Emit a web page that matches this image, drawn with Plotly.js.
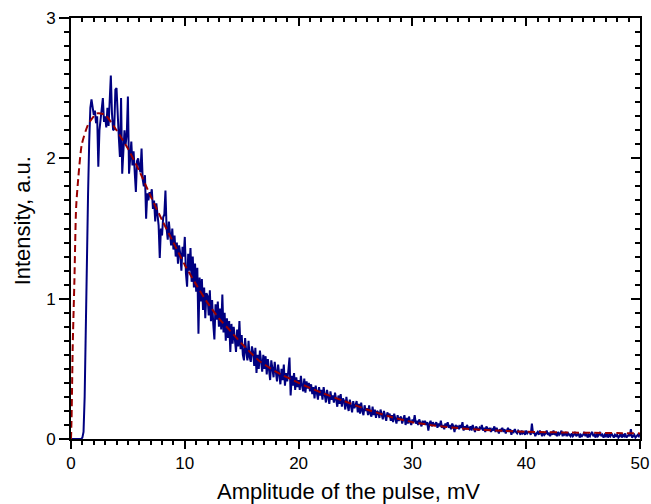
<!DOCTYPE html>
<html>
<head>
<meta charset="utf-8">
<script src="https://cdn.plot.ly/plotly-3.0.1.min.js"></script>
<style>html,body{margin:0;padding:0;background:#fff;}#chart{width:651px;height:504px;}</style>
</head>
<body>
<div id="chart"></div>
<script>
// Measured spectrum: amplitude step 0.1 mV from 0 to 50 mV
var xStart = 0, xStep = 0.1;
var measured = [
0,0,0,0,0,0,0,0,0,0,
0.01,0.05,0.3,0.9,1.4,1.75,2.12,2.36,2.42,2.37,
2.31,2.34,2.25,2.3,1.94,2.2,2.28,2.35,2.43,2.26,
2.3,2.22,2.36,2.23,2.4,2.59,2.32,2.2,2.21,2.49,
2.5,2.28,2.15,2.01,2.43,1.89,2.05,2.2,2.1,2.17,
2.44,1.89,2.0,2.12,1.95,2.05,1.9,1.76,1.98,2.0,
1.94,1.9,2.07,1.85,1.8,1.88,1.57,1.75,1.7,1.76,
1.73,1.78,1.64,1.7,1.55,1.68,1.6,1.52,1.29,1.5,
1.45,1.58,1.6,1.77,1.5,1.42,1.55,1.48,1.38,1.5,
1.35,1.45,1.3,1.4,1.25,1.38,1.32,1.2,1.37,1.3,
1.44,1.18,1.085,1.32,1.2,1.36,1.12,1.3,1.08,1.25,
1.05,1.22,0.75,1.15,0.98,1.14,0.92,1.08,0.86,1.04,
1.02,0.88,1.06,0.84,0.99,0.82,0.71,0.96,0.85,0.98,
0.8,0.93,0.78,1.03,0.76,0.9,0.7,0.86,0.72,0.84,
0.62,0.82,0.68,0.8,0.7,0.62,0.78,0.66,0.84,0.64,
0.74,0.6,0.56,0.72,0.62,0.56,0.7,0.58,0.55,0.66,
0.62,0.52,0.65,0.47,0.6,0.5,0.63,0.52,0.48,0.6,
0.5,0.59,0.46,0.57,0.48,0.42,0.56,0.47,0.44,0.55,
0.46,0.41,0.53,0.44,0.39,0.5,0.42,0.53,0.38,0.47,
0.41,0.49,0.58,0.31,0.45,0.38,0.47,0.35,0.44,0.37,
0.42,0.35,0.45,0.38,0.34,0.43,0.33,0.41,0.36,0.4,
0.34,0.39,0.32,0.37,0.29,0.38,0.33,0.28,0.37,0.31,
0.35,0.28,0.37,0.3,0.26,0.35,0.29,0.25,0.34,0.28,
0.31,0.26,0.33,0.27,0.23,0.31,0.25,0.32,0.23,0.29,
0.27,0.21,0.3,0.24,0.2,0.28,0.23,0.19,0.27,0.22,
0.24,0.27,0.19,0.25,0.18,0.26,0.2,0.17,0.24,0.2,
0.22,0.17,0.24,0.18,0.16,0.23,0.17,0.21,0.15,0.2,
0.19,0.15,0.21,0.16,0.14,0.2,0.15,0.13,0.19,0.16,
0.18,0.13,0.17,0.12,0.18,0.14,0.11,0.17,0.13,0.15,
0.16,0.11,0.15,0.17,0.1,0.15,0.11,0.16,0.12,0.1,
0.14,0.12,0.17,0.11,0.13,0.1,0.14,0.12,0.09,0.13,
0.11,0.13,0.1,0.12,0.06,0.11,0.13,0.09,0.12,0.1,
0.1,0.12,0.08,0.11,0.09,0.13,0.08,0.1,0.07,0.11,
0.09,0.12,0.08,0.1,0.07,0.11,0.09,0.05,0.1,0.08,
0.09,0.07,0.1,0.08,0.12,0.06,0.09,0.07,0.1,0.08,
0.07,0.09,0.06,0.1,0.08,0.05,0.09,0.07,0.06,0.08,
0.07,0.1,0.06,0.08,0.05,0.09,0.07,0.06,0.08,0.05,
0.07,0.06,0.09,0.05,0.08,0.06,0.04,0.07,0.06,0.08,
0.05,0.07,0.04,0.06,0.08,0.05,0.07,0.03,0.06,0.05,
0.07,0.05,0.04,0.06,0.05,0.03,0.06,0.04,0.05,0.03,
0.06,0.04,0.05,0.05,0.03,0.11,0.04,0.05,0.02,0.04,
0.05,0.03,0.06,0.04,0.02,0.05,0.03,0.04,0.06,0.03,
0.04,0.02,0.05,0.03,0.06,0.03,0.04,0.02,0.05,0.03,
0.04,0.06,0.02,0.04,0.03,0.05,0.02,0.04,0.03,0.02,
0.04,0.02,0.03,0.05,0.02,0.03,0.04,0.01,0.03,0.02,
0.03,0.05,0.02,0.04,0.01,0.03,0.02,0.04,0.05,0.02,
0.03,0.01,0.04,0.02,0.03,0.05,0.02,0.03,0.01,0.03,
0.02,0.04,0.01,0.03,0.02,0.04,0.02,0.01,0.03,0.02,
0.03,0.01,0.02,0.04,0.01,0.03,0.02,0.04,0.01,0.02,
0.03,0.02,0.07,0.01,0.02,0.03,0.01,0.02,0.03,0.02,0.04
];
var measuredX = measured.map(function(_, i){ return +(xStart + i*xStep).toFixed(2); });

// Fitted curve (dashed)
var fitX = [0,0.05,0.1,0.15,0.3,0.45,0.65,0.95,1.5,2.25,3,4,5,6,7,8,9,10,11,12,13,14,15,16.5,18,20,22,24,26,28,30,32,34,36,38,40,42,44,46,48,50];
var fitY = [0,0.15,0.4,0.66,1.13,1.65,1.87,2.1,2.24,2.32,2.31,2.2,2.07,1.91,1.73,1.56,1.4,1.24,1.1,0.97,0.86,0.77,0.68,0.56,0.48,0.4,0.33,0.27,0.21,0.16,0.12,0.095,0.078,0.066,0.058,0.052,0.048,0.046,0.044,0.042,0.04];

var xTitle = "Amplitude of the pulse, mV";
var yTitle = "Intensity, a.u.";

var fam = "Liberation Sans, Arial, sans-serif";
var tickFont = {family: fam, size: 17, color: "#000"};
var titleFont = {family: fam, size: 22, color: "#000"};

var traces = [
  {x: measuredX, y: measured, type: "scatter", mode: "lines",
   line: {color: "#000080", width: 2}},
  {x: fitX, y: fitY, type: "scatter", mode: "lines", xaxis: "x2", yaxis: "y2",
   line: {color: "#990000", width: 2, dash: "7px,4px", shape: "spline", smoothing: 0.6}}
];

function ax(o) {
  var b = {showgrid: false, zeroline: false, showline: true, linecolor: "#000", linewidth: 2,
    tickcolor: "#000", tickwidth: 2, tickfont: tickFont};
  for (var k in o) b[k] = o[k];
  return b;
}

var layout = {
  width: 651, height: 504,
  margin: {l: 71, r: 11, t: 18, b: 65},
  showlegend: false,
  xaxis: ax({range: [0, 50], dtick: 10, ticks: "outside", ticklen: 8,
    minor: {dtick: 1, ticks: "outside", ticklen: 4}}),
  yaxis: ax({range: [0, 3], dtick: 1, ticks: "outside", ticklen: 10,
    minor: {dtick: 0.1, ticks: "outside", ticklen: 5}}),
  xaxis2: ax({overlaying: "x", side: "top", anchor: "y2", range: [0, 50], dtick: 10,
    ticks: "inside", ticklen: 8, showticklabels: false,
    minor: {dtick: 1, ticks: "inside", ticklen: 4}}),
  yaxis2: ax({overlaying: "y", side: "right", anchor: "x2", range: [0, 3], dtick: 1,
    ticks: "inside", ticklen: 9, showticklabels: false,
    minor: {dtick: 0.1, ticks: "inside", ticklen: 5}}),
  annotations: [
    {text: xTitle, xref: "paper", yref: "paper", x: 0.488, y: 0, yshift: -52, xanchor: "center", yanchor: "middle",
     showarrow: false, font: titleFont},
    {text: yTitle, xref: "paper", yref: "paper", x: 0, y: 0.517, xshift: -49, xanchor: "center", yanchor: "middle",
     textangle: -90, showarrow: false, font: titleFont}
  ]
};

Plotly.newPlot("chart", traces, layout, {staticPlot: true});
</script>
</body>
</html>
